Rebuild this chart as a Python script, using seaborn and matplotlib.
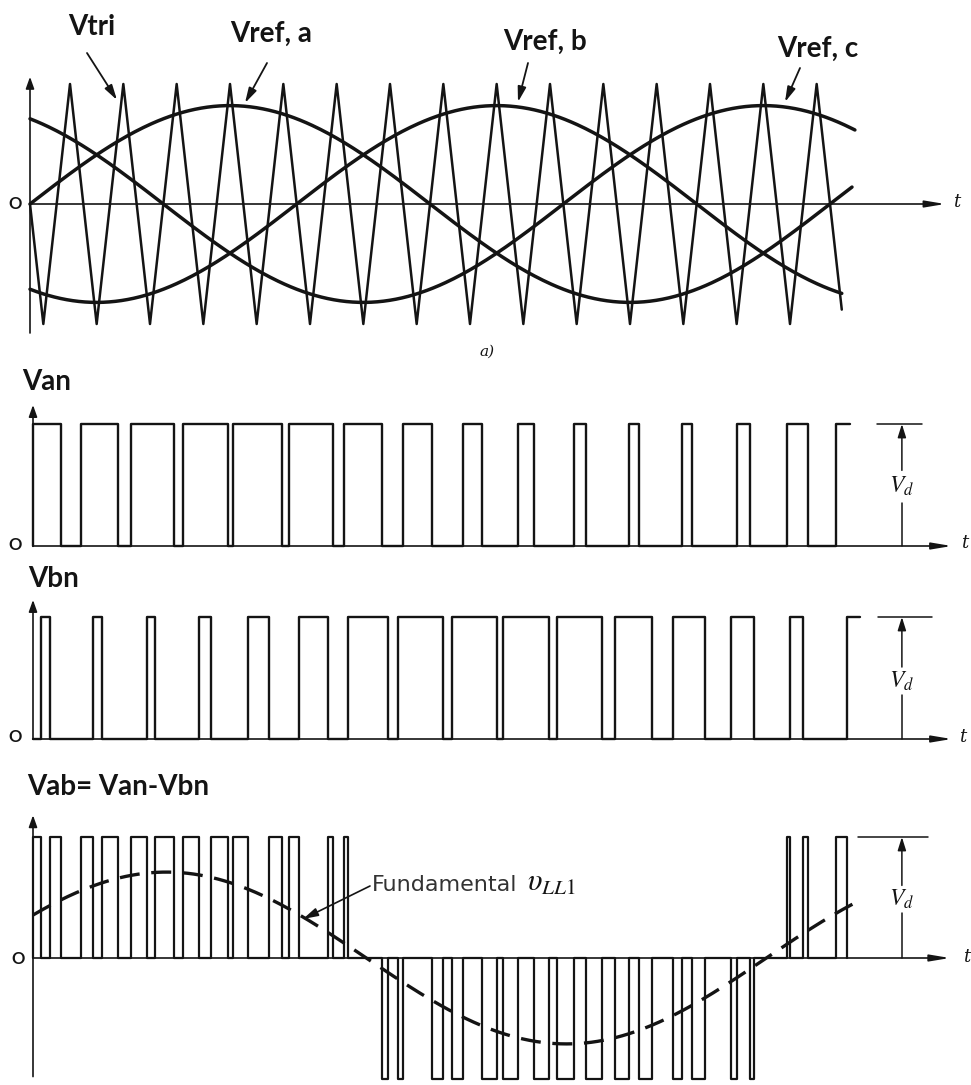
import numpy as np
import pandas as pd
import matplotlib
matplotlib.use("Agg")
import matplotlib.pyplot as plt
import seaborn as sns

sns.set_theme(style="white")
plt.rcParams["font.family"] = ["Lato", "DejaVu Sans"]
plt.rcParams["mathtext.fontset"] = "stix"

W, H = 971, 1085
INK = "#141414"

# ---------------- sine-triangle PWM (angles in electrical degrees) ----------------
REF_NAMES = ["Vref, a", "Vref, b", "Vref, c"]
REF_AMPLITUDE = 0.82                 # reference peak / carrier peak
REF_PHASE = [0, -120, 120]           # degrees
REF_END = [369.9, 365.3, 371.2]      # where each drawn curve stops

# triangular carrier vertices (15 carrier periods per fundamental period)
CARRIER_T = [0, 6, 18, 30, 42, 54, 66, 78, 90, 102, 114, 126, 138, 150, 162, 174,
             186, 198, 210, 222, 234, 246, 258, 270, 282, 294, 306, 318, 330, 342,
             354, 365.3]
CARRIER_V = [0, -1, 1, -1, 1, -1, 1, -1, 1, -1, 1, -1, 1, -1, 1, -1,
             1, -1, 1, -1, 1, -1, 1, -1, 1, -1, 1, -1, 1, -1,
             1, -0.88]

# ---------------- pole voltages: switching instants (degrees) ----------------
VAN_RISE = [0, 21.6, 44.1, 67.4, 90.1, 115.3, 140.1, 166.6, 193.4, 218.1, 243.6,
            268.3, 292.2, 316.7, 339.2, 361.4]
VAN_FALL = [12.6, 38.4, 63.6, 87.6, 111.9, 135.1, 156.9, 179.4, 201.9, 225.6, 248.9,
            272.8, 296.7, 322.7, 348.9]
VAN_END = 367.7

VBN_RISE = [3.5, 27.1, 51.2, 74.7, 96.9, 119.8, 141.9, 164.4, 188.4, 211.4, 235.7,
            261.9, 287.9, 314.1, 340.7, 366.2]
VBN_FALL = [7.7, 30.9, 54.9, 80.1, 106.3, 132.6, 159.9, 184.6, 208.7, 232.2, 255.9,
            278.4, 302.4, 324.5, 346.6]
VBN_END = 372.2

# fundamental of the line-to-line voltage (per unit of Vd)
FUND_AMPLITUDE = 0.71
FUND_PHASE = 30
FUND_END = 369.9

fig = plt.figure(figsize=(W / 100, H / 100), dpi=100)


def panel(top, bottom, x0, y0, ppu, ppd=800 / 360):
    ax = fig.add_axes([0, 1 - bottom / H, 1, (bottom - top) / H])
    ax.set_xlim(-x0 / ppd, (W - x0) / ppd)
    ax.set_ylim((y0 - bottom) / ppu, (y0 - top) / ppu)
    ax.set_axis_off()
    return ax


def fxy(x, y):
    return (x / W, 1 - y / H)


def axes_arrows(ax, t_end, y_lo, y_hi):
    ax.annotate("", xy=(t_end, 0), xytext=(0, 0),
                arrowprops=dict(arrowstyle="-|>,head_length=1.2,head_width=0.2",
                                color=INK, lw=1.2, shrinkA=0, shrinkB=0,
                                mutation_scale=10))
    ax.annotate("", xy=(0, y_hi), xytext=(0, y_lo),
                arrowprops=dict(arrowstyle="-|>,head_length=0.7,head_width=0.25",
                                color=INK, lw=1.2, shrinkA=0, shrinkB=0,
                                mutation_scale=10))


def step_vertices(rises, falls, end):
    xs, ys = [0.0], [0.0]
    for i, r in enumerate(rises):
        xs += [r, r]
        ys += [0, 1]
        if i < len(falls):
            xs += [falls[i], falls[i]]
            ys += [1, 0]
        else:
            xs.append(end)
            ys.append(1)
    return xs, ys


def level_at(rises, falls, t):
    for i, r in enumerate(rises):
        f = falls[i] if i < len(falls) else np.inf
        if r <= t < f:
            return 1
    return 0


def vd_marker(ax, t, t0, t1, gap_lo, gap_hi):
    ax.plot([t0, t1], [1, 1], color=INK, lw=1.1)
    ax.plot([t, t], [0, gap_lo], color=INK, lw=1.1)
    ax.annotate("", xy=(t, 1), xytext=(t, gap_hi),
                arrowprops=dict(arrowstyle="-|>,head_length=0.8,head_width=0.25",
                                color=INK, lw=1.1, shrinkA=0, shrinkB=0,
                                mutation_scale=10))
    ax.text(t, 0.5 * (gap_lo + gap_hi), r"$V_d$", ha="center", va="center",
            fontsize=17, color=INK)


def pointer(tail, tip, lw=1.3):
    fig.add_artist(matplotlib.patches.FancyArrowPatch(
        fxy(*tail), fxy(*tip), transform=fig.transFigure,
        arrowstyle="-|>,head_length=0.9,head_width=0.25", mutation_scale=10,
        color=INK, lw=lw, shrinkA=0, shrinkB=0))


# ---------------- (a) carrier and references ----------------
ax1 = panel(0, 340, 30, 204, 120)
axes_arrows(ax1, 411.8, -1.075, 1.06)

carrier = pd.DataFrame({"angle": CARRIER_T, "value": CARRIER_V})
sns.lineplot(data=carrier, x="angle", y="value", ax=ax1, color=INK, lw=1.8,
             estimator=None, sort=False)

frames = []
for name, ph, end in zip(REF_NAMES, REF_PHASE, REF_END):
    ang = np.linspace(0, end, 400)
    frames.append(pd.DataFrame({"angle": ang,
                                "value": REF_AMPLITUDE * np.sin(np.radians(ang + ph)),
                                "ref": name}))
refs = pd.concat(frames, ignore_index=True)
sns.lineplot(data=refs, x="angle", y="value", units="ref", estimator=None,
             ax=ax1, color=INK, lw=2.5, legend=False)

# ---------------- Van ----------------
ax2 = panel(340, 555, 33, 546, 122)
axes_arrows(ax2, 413.4, 0, 1.156)
xs, ys = step_vertices(VAN_RISE, VAN_FALL, VAN_END)
sns.lineplot(x=xs, y=ys, ax=ax2, color=INK, lw=1.7, estimator=None, sort=False)
vd_marker(ax2, 391.0, 379.7, 399.9, 0.35, 0.62)

# ---------------- Vbn ----------------
ax3 = panel(555, 755, 33, 739, 122)
axes_arrows(ax3, 413.4, 0, 1.14)
xs, ys = step_vertices(VBN_RISE, VBN_FALL, VBN_END)
sns.lineplot(x=xs, y=ys, ax=ax3, color=INK, lw=1.7, estimator=None, sort=False)
vd_marker(ax3, 391.0, 380.3, 404.6, 0.36, 0.59)

# ---------------- Vab = Van - Vbn ----------------
ax4 = panel(755, 1085, 33, 958, 121)
axes_arrows(ax4, 412.6, -0.98, 1.18)
edges = sorted(set(VAN_RISE + VAN_FALL + VBN_RISE + VBN_FALL))
vx, vy = [0.0], [0]
for a, b in zip(edges[:-1], edges[1:]):
    m = 0.5 * (a + b)
    v = level_at(VAN_RISE, VAN_FALL, m) - level_at(VBN_RISE, VBN_FALL, m)
    vx += [a, b]
    vy += [v, v]
vx.append(edges[-1])
vy.append(0)
sns.lineplot(x=vx, y=vy, ax=ax4, color=INK, lw=1.6, estimator=None, sort=False)

fa = np.linspace(0, FUND_END, 400)
fund = pd.DataFrame({"angle": fa,
                     "value": FUND_AMPLITUDE * np.sin(np.radians(fa + FUND_PHASE))})
sns.lineplot(data=fund, x="angle", y="value", ax=ax4, color=INK, lw=2.4,
             linestyle=(0, (6, 3.5)), estimator=None, sort=False)
vd_marker(ax4, 391.0, 371.3, 402.8, 0.37, 0.60)

# ---------------- labels ----------------
bold = dict(fontsize=20, fontweight="bold", color=INK, ha="left", va="baseline")
fig.text(*fxy(68, 35), "Vtri", **bold)
fig.text(*fxy(230, 42), "Vref, a", **bold)
fig.text(*fxy(503, 50), "Vref, b", **bold)
fig.text(*fxy(777, 57), "Vref, c", **bold)
fig.text(*fxy(22, 390), "Van", **bold)
fig.text(*fxy(28, 587), "Vbn", **bold)
fig.text(*fxy(27, 795), "Vab= Van-Vbn", **bold)

pointer((87, 53), (117, 100))
pointer((267, 63), (245, 103))
pointer((528, 63), (518, 102))
pointer((800, 68), (785, 102))

for x, y in [(15, 204), (15, 545), (15, 737), (18, 959)]:
    fig.text(*fxy(x, y), "O", fontsize=12, fontweight="bold", color=INK,
             ha="center", va="center")
for x, y in [(957, 202), (965, 543), (963, 737), (967, 957)]:
    fig.text(*fxy(x, y), "t", fontsize=13, style="italic", family="DejaVu Serif",
             color=INK, ha="center", va="center")

fig.text(*fxy(487, 352), "a)", fontsize=11, style="italic", family="DejaVu Serif",
         color=INK, ha="center", va="center")

fig.text(*fxy(372, 891), "Fundamental", fontsize=16, family="DejaVu Sans",
         color="#333333", ha="left", va="baseline")
fig.text(*fxy(527, 891), r"$\upsilon_{LL1}$", fontsize=22, color=INK,
         ha="left", va="baseline")
pointer((370, 886), (303, 919), lw=1.2)

fig.savefig("out.png", dpi=100, facecolor="white")
